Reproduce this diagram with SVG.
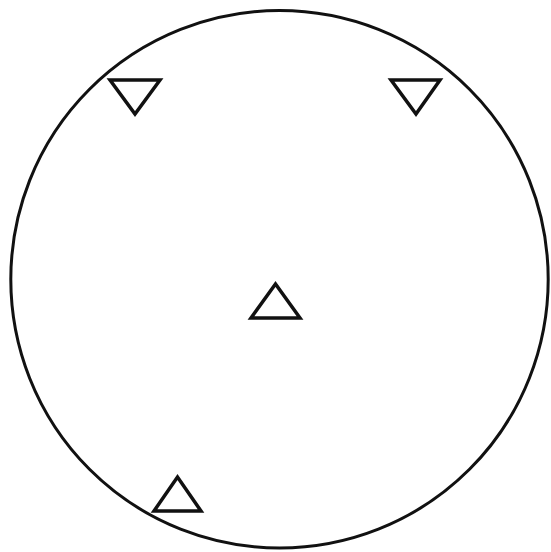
<svg xmlns="http://www.w3.org/2000/svg" width="551" height="552" viewBox="0 0 551 552">
<style>
.s{fill:none;stroke:#111;stroke-width:3;stroke-linejoin:miter}
.t{fill:#fff;stroke:#111;stroke-width:3.5;stroke-linejoin:miter}
</style>
<rect width="551" height="552" fill="#fff"/>
<g id="boundary"><circle class="s" cx="279.5" cy="279.3" r="268.7"/></g>
<g id="tri-top-left"><polygon class="t" points="110,80 160,80 135,114"/></g>
<g id="tri-top-right"><polygon class="t" points="391,80 440,80 416,114"/></g>
<g id="tri-center"><polygon class="t" points="251,318 300,318 275.5,284"/></g>
<g id="tri-bottom-left"><polygon class="t" points="154,511 201,511 177.5,477"/></g>
</svg>
